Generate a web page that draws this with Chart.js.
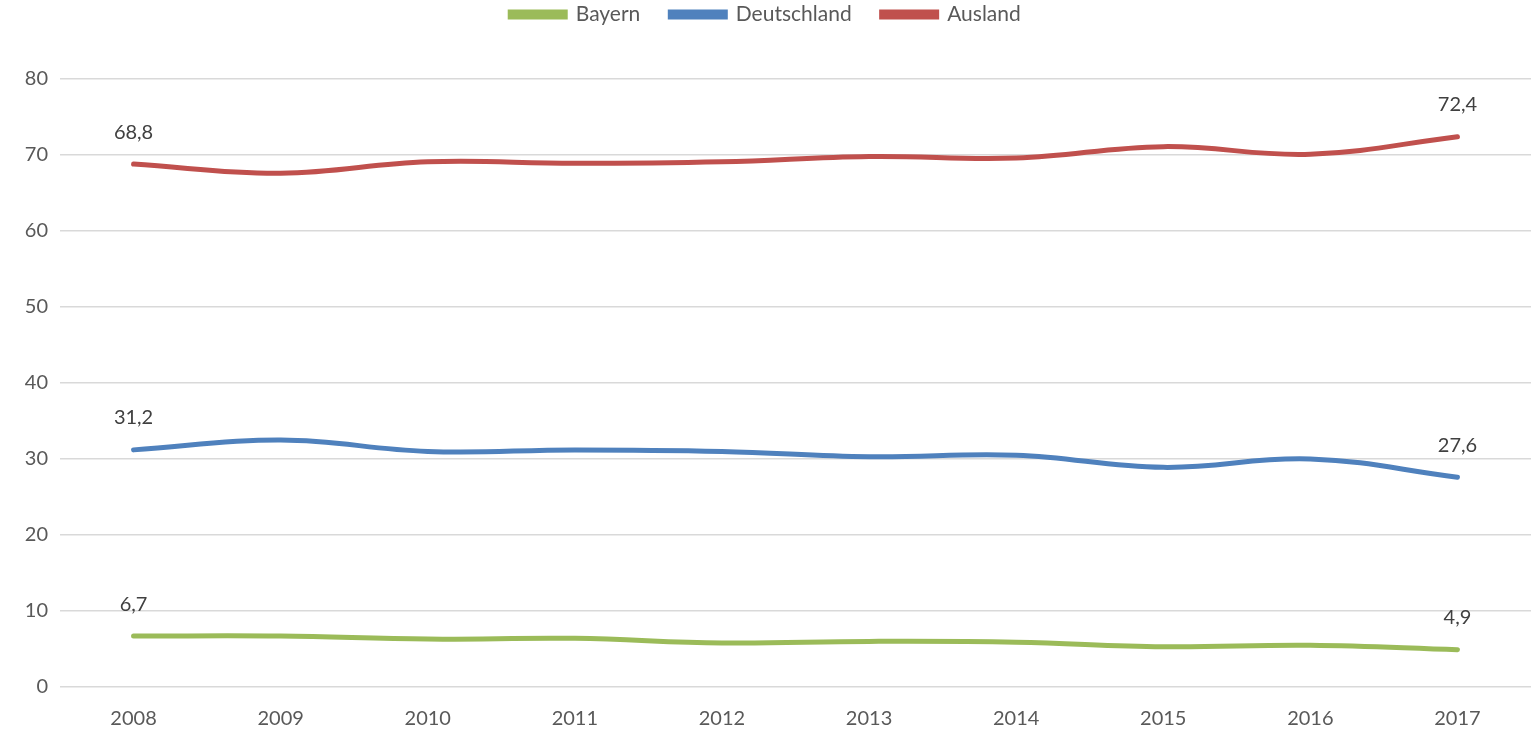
<!DOCTYPE html>
<html>
<head>
<meta charset="utf-8">
<script src="https://cdn.jsdelivr.net/npm/chart.js@4"></script>
<style>
  html, body { margin: 0; padding: 0; background: #fff; }
  #wrap { width: 1531px; height: 730px; }
</style>
</head>
<body>
<div id="wrap"><canvas id="chart"></canvas></div>
<script>
// Data
const years = ['2008', '2009', '2010', '2011', '2012', '2013', '2014', '2015', '2016', '2017'];
const bayern = [6.7, 6.7, 6.3, 6.4, 5.8, 6.0, 5.9, 5.3, 5.5, 4.9];
const deutschland = [31.2, 32.5, 31.0, 31.2, 31.0, 30.3, 30.5, 28.9, 30.0, 27.6];
const ausland = [68.8, 67.6, 69.1, 68.9, 69.1, 69.8, 69.6, 71.1, 70.1, 72.4];
const yTicks = [0, 10, 20, 30, 40, 50, 60, 70, 80];

const fontFamily = 'Lato, "Open Sans", sans-serif';

// labels only on first and last point, like the original
const endLabels = {
    id: 'endLabels',
    afterDatasetsDraw(chart) {
        const ctx = chart.ctx;
        ctx.save();
        ctx.font = '20px ' + fontFamily;
        ctx.fillStyle = '#404040';
        ctx.textAlign = 'center';
        ctx.textBaseline = 'middle';
        chart.data.datasets.forEach((ds, i) => {
            const meta = chart.getDatasetMeta(i);
            const last = ds.data.length - 1;
            [0, last].forEach(idx => {
                const pt = meta.data[idx];
                const txt = ds.data[idx].toFixed(1).replace('.', ',');
                ctx.fillText(txt, pt.x, pt.y - 32);
            });
        });
        ctx.restore();
    }
};

// fixed legend height, and legend drawn near the top edge
const legendSpot = {
    id: 'legendSpot',
    afterInit(chart) {
        const fit = chart.legend.fit;
        chart.legend.fit = function () {
            fit.call(this);
            this.height = 79;
        };
    },
    afterLayout(chart) {
        chart.legend.top = -26;
        chart.legend.adjustHitBoxes();
    }
};

function makeSet(label, data, color) {
    return {
        label: label,
        data: data,
        borderColor: color,
        backgroundColor: color,
        borderWidth: 5,
        borderCapStyle: 'round',
        tension: 0.4,
        pointRadius: 0,
        fill: false
    };
}

new Chart(document.getElementById('chart'), {
    type: 'line',
    data: {
        labels: years,
        datasets: [
            makeSet('Bayern', bayern, '#9BBB59'),
            makeSet('Deutschland', deutschland, '#4F81BD'),
            makeSet('Ausland', ausland, '#C0504D')
        ]
    },
    options: {
        responsive: true,
        maintainAspectRatio: false,
        animation: false,
        layout: { padding: 0 },
        plugins: {
            legend: {
                position: 'top',
                labels: {
                    boxWidth: 55,
                    boxHeight: 5,
                    padding: 30,
                    color: '#595959',
                    font: { family: fontFamily, size: 21 }
                }
            },
            tooltip: { enabled: false }
        },
        scales: {
            x: {
                offset: true,
                grid: { display: false },
                border: { display: false },
                ticks: {
                    color: '#595959',
                    padding: 12,
                    font: { family: fontFamily, size: 20 }
                },
                afterFit(scale) { scale.height = 43; }
            },
            y: {
                min: 0,
                max: 80,
                afterBuildTicks(scale) {
                    scale.ticks = yTicks.map(v => ({ value: v }));
                },
                grid: { color: '#d9d9d9', lineWidth: 1.5, drawTicks: false },
                border: { display: false },
                ticks: {
                    color: '#595959',
                    padding: 12,
                    font: { family: fontFamily, size: 20 }
                },
                afterFit(scale) { scale.width = 60; }
            }
        }
    },
    plugins: [endLabels, legendSpot]
});
</script>
</body>
</html>
